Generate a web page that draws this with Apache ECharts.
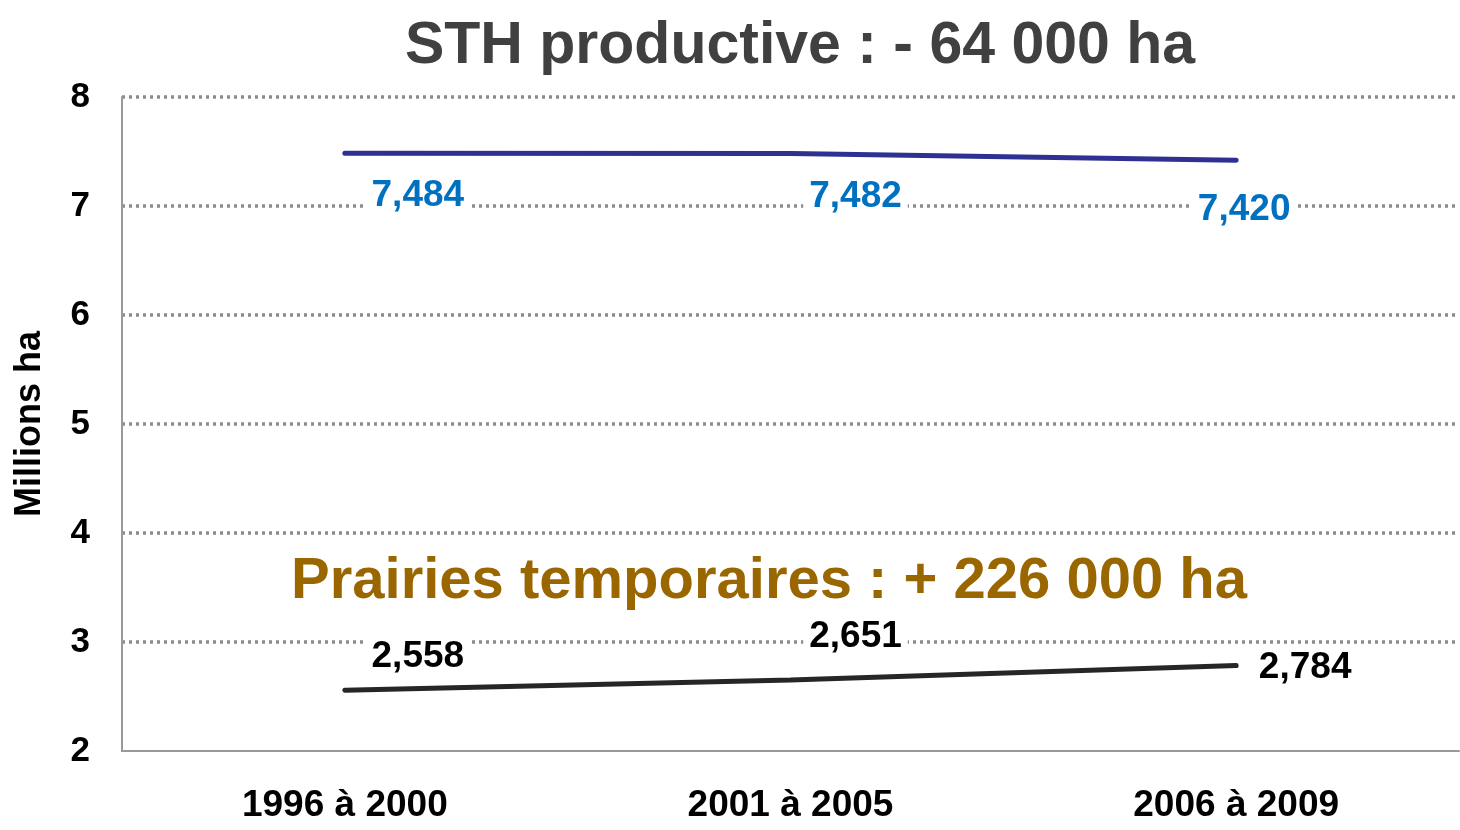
<!DOCTYPE html>
<html>
<head>
<meta charset="utf-8">
<style>
  html, body { margin: 0; padding: 0; background: #fff; }
  #chart { width: 1460px; height: 830px; }
</style>
<script src="https://cdn.jsdelivr.net/npm/echarts@6/dist/echarts.min.js"></script>
</head>
<body>
<div id="chart"></div>
<script>
// data
const periods = ["1996 à 2000", "2001 à 2005", "2006 à 2009"];
const sthValues = [7.484, 7.482, 7.42];
const prairiesValues = [2.558, 2.651, 2.784];
const yTicks = [2, 3, 4, 5, 6, 7, 8];

// label placement relative to each point
const sthOffsets = [[73, 43], [65, 43], [8, 50]];
const prairiesOffsets = [[73, -33], [65, -43], [69, 2]];

const fmt = v => v.toFixed(3).replace(".", ",");
const font = "Liberation Sans, Arial, sans-serif";

function buildData(values, offsets, color) {
  return values.map((v, i) => ({
    value: v,
    label: {
      show: true,
      position: "inside",
      offset: offsets[i],
      formatter: fmt(v),
      color: color,
      fontSize: 37,
      fontWeight: "bold",
      fontFamily: font,
      backgroundColor: "#fff",
      padding: [0, 6],
    },
  }));
}

const myChart = echarts.init(document.getElementById("chart"));
let option = {
  animation: false,
  title: [
    {
      text: "STH productive : - 64 000 ha",
      left: 795,
      top: 12,
      textAlign: "center",
      textStyle: {
        fontFamily: font,
        color: "#404040",
        fontSize: 59,
        fontWeight: "bold",
      },
    },
    {
      text: "Prairies temporaires : + 226 000 ha",
      left: 764,
      top: 548,
      textAlign: "center",
      textStyle: {
        fontFamily: font,
        color: "#996600",
        fontSize: 58,
        fontWeight: "bold",
      },
    },
  ],
  grid: { left: 122, right: 1, top: 97, bottom: 79, outerBoundsMode: "none" },
  xAxis: {
    type: "category",
    data: periods,
    boundaryGap: true,
    axisLine: { show: true, lineStyle: { color: "#999", width: 2 } },
    axisTick: { show: false },
    axisLabel: {
      margin: 36,
      color: "#000",
      fontSize: 37,
      fontWeight: "bold",
      fontFamily: font,
    },
  },
  yAxis: {
    type: "value",
    min: yTicks[0],
    max: yTicks[yTicks.length - 1],
    interval: 1,
    name: "Millions ha",
    nameLocation: "middle",
    nameRotate: 90,
    nameGap: 74,
    nameTextStyle: {
      color: "#000",
      fontSize: 36,
      fontWeight: "bold",
      fontFamily: font,
    },
    axisLine: { show: true, lineStyle: { color: "#999", width: 2 } },
    axisTick: { show: false },
    axisLabel: {
      margin: 32,
      color: "#000",
      fontSize: 35,
      fontWeight: "bold",
      fontFamily: font,
    },
    splitLine: {
      show: true,
      showMinLine: false,
      lineStyle: { color: "#8c8c8c", width: 3.5, type: [3, 4] },
    },
  },
  series: [
    {
      name: "STH productive",
      type: "line",
      data: buildData(sthValues, sthOffsets, "#0070c0"),
      symbol: "circle",
      symbolSize: 0,
      lineStyle: { color: "#2e3192", width: 5, cap: "round" },
      itemStyle: { color: "#2e3192" },
      z: 3,
    },
    {
      name: "Prairies temporaires",
      type: "line",
      data: buildData(prairiesValues, prairiesOffsets, "#000"),
      symbol: "circle",
      symbolSize: 0,
      lineStyle: { color: "#262626", width: 5, cap: "round" },
      itemStyle: { color: "#262626" },
      z: 3,
    },
  ],
};
option && myChart.setOption(option);
</script>
</body>
</html>
